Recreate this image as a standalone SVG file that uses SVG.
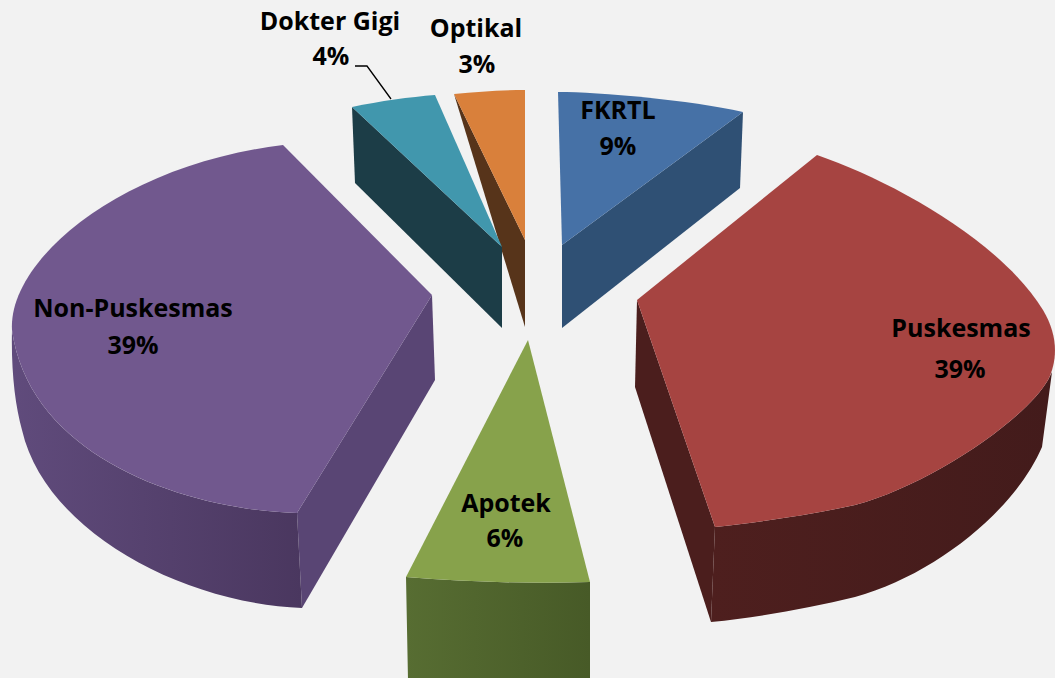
<svg xmlns="http://www.w3.org/2000/svg" width="1055" height="678" viewBox="0 0 1055 678">
  <style>
    .lbl { font-family: "Open Sans", "Liberation Sans", sans-serif; font-weight: 700; font-size: 25px; fill: #000; text-anchor: middle; }
    .leader { fill: none; stroke: #000; stroke-width: 1.3; }
  </style>
  <defs>
    <linearGradient id="gPurpleSide" x1="0" y1="0" x2="1" y2="0">
      <stop offset="0" stop-color="#604b7c"/>
      <stop offset="1" stop-color="#4a375f"/>
    </linearGradient>
    <linearGradient id="gGreenSide" x1="0" y1="0" x2="1" y2="0">
      <stop offset="0" stop-color="#576d32"/>
      <stop offset="1" stop-color="#475a27"/>
    </linearGradient>
    <linearGradient id="gRedSide" x1="0" y1="0" x2="1" y2="0">
      <stop offset="0" stop-color="#4e1f1e"/>
      <stop offset="1" stop-color="#431b1b"/>
    </linearGradient>
  </defs>

  <rect width="1055" height="678" fill="#f2f2f2"/>

  <!-- Optikal 3% -->
  <g id="slice-optikal">
    <path d="M454,94 L525,240 L525,327 Z" fill="#57341a"/>
    <path d="M454,94 C478,92 500,90 525,90 L525,240 Z" fill="#d9803b"/>
  </g>

  <!-- Dokter Gigi 4% -->
  <g id="slice-dokter-gigi">
    <path d="M352,107 L502,247 L502,328 L355,183 Z" fill="#1c3d47"/>
    <path d="M352,107 C380,101 410,97 435,95 L502,247 Z" fill="#4197ad"/>
  </g>

  <!-- FKRTL 9% -->
  <g id="slice-fkrtl">
    <path d="M562,245 L743,112 L740,188 L562,328 Z" fill="#2f5074"/>
    <path d="M558,92 C600,92 690,100 743,112 L562,245 Z" fill="#4671a6"/>
  </g>

  <!-- Puskesmas 39% -->
  <g id="slice-puskesmas">
    <path d="M637,300 L715,527 L711,622 L635,387 Z" fill="#4b1e1d"/>
    <path d="M715,527 C760,522 810,515 855,505 C930,485 1025,420 1048,380 L1052,372 L1042,447 C1015,510 935,575 855,597 C810,608 760,617 711,622 Z" fill="url(#gRedSide)"/>
    <path d="M637,300 L817,155 C890,180 1000,240 1043,310 C1058,335 1058,360 1048,380 C1025,420 930,485 855,505 C810,515 760,522 715,527 Z" fill="#a64441"/>
  </g>

  <!-- Non-Puskesmas 39% -->
  <g id="slice-non-puskesmas">
    <path d="M432,295 L297,513 L302,608 L435,380 Z" fill="#594574"/>
    <path d="M297,513 C190,510 30,460 12,330 C11,370 15,405 22,430 C45,530 180,603 302,608 Z" fill="url(#gPurpleSide)"/>
    <path d="M283,145 L432,295 L297,513 C190,510 30,460 12,330 C8,260 120,165 283,145 Z" fill="#71588e"/>
  </g>

  <!-- Apotek 6% -->
  <g id="slice-apotek">
    <path d="M406,577 C470,582 530,584 590,582 L590,680 L408,680 Z" fill="url(#gGreenSide)"/>
    <path d="M528,340 L406,577 C470,582 530,584 590,582 Z" fill="#87a24b"/>
  </g>

  <!-- leader line for the Dokter Gigi label -->
  <g id="connectors">
    <polyline class="leader" points="355,66 367,66 391,99"/>
  </g>

  <g id="labels">
    <text class="lbl" x="330" y="30">Dokter Gigi</text>
    <text class="lbl" x="331" y="65">4%</text>
    <text class="lbl" x="476" y="37">Optikal</text>
    <text class="lbl" x="477" y="73">3%</text>
    <text class="lbl" x="618" y="119">FKRTL</text>
    <text class="lbl" x="618" y="155">9%</text>
    <text class="lbl" x="961" y="337">Puskesmas</text>
    <text class="lbl" x="960" y="378">39%</text>
    <text class="lbl" x="133" y="317">Non-Puskesmas</text>
    <text class="lbl" x="133" y="354">39%</text>
    <text class="lbl" x="506" y="512">Apotek</text>
    <text class="lbl" x="505" y="547">6%</text>
  </g>
</svg>
